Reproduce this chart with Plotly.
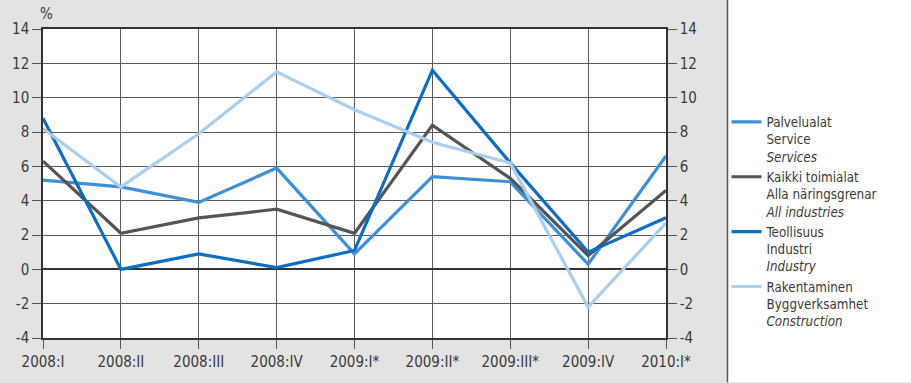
import plotly.graph_objects as go

quarters = ["2008:I", "2008:II", "2008:III", "2008:IV", "2009:I*", "2009:II*", "2009:III*", "2009:IV", "2010:I*"]
services = [5.2, 4.8, 3.9, 5.9, 0.9, 5.4, 5.1, 0.3, 6.6]
all_industries = [6.3, 2.1, 3.0, 3.5, 2.1, 8.4, 5.3, 0.8, 4.6]
industry = [8.8, 0.0, 0.9, 0.1, 1.1, 11.6, 6.2, 1.0, 3.0]
construction = [8.2, 4.8, 7.9, 11.5, 9.3, 7.4, 6.2, -2.2, 2.7]
y_ticks = [-4, -2, 0, 2, 4, 6, 8, 10, 12, 14]
y_labels = ["-4", "-2", "0", "2", "4", "6", "8", "10", "12", "14"]

series = [
    ("Palvelualat<br>Service<br><i>Services</i>", services, "#3d8fd6"),
    ("Kaikki toimialat<br>Alla näringsgrenar<br><i>All industries</i>", all_industries, "#555555"),
    ("Teollisuus<br>Industri<br><i>Industry</i>", industry, "#0b6ec2"),
    ("Rakentaminen<br>Byggverksamhet<br><i>Construction</i>", construction, "#aacfec"),
]

FONT = "DejaVu Sans Condensed, Liberation Sans Narrow, sans-serif"
W, H = 911, 383
L, R, T, B = 38, 666, 29, 343
TXT = "#3a3a3a"

fig = go.Figure()
for name, vals, col in series:
    fig.add_trace(go.Scatter(x=quarters, y=vals, name=name, mode="lines",
                             line=dict(color=col, width=3.2), cliponaxis=False))
# invisible companion trace for right-hand axis
fig.add_trace(go.Scatter(x=quarters, y=services, yaxis="y2", mode="lines",
                         line=dict(width=0), opacity=0, showlegend=False, hoverinfo="skip"))

def px_x(p):
    return (p - L) / (R - L)

def px_y(p):
    return (B - p) / (B - T)

tickfont = dict(size=15, family=FONT, color=TXT)

fig.update_layout(
    width=W, height=H,
    margin=dict(l=L, r=W - R, t=T, b=H - B),
    paper_bgcolor="#e3e3e3",
    plot_bgcolor="white",
    font=dict(family=FONT, size=15, color=TXT),
    xaxis=dict(type="category", range=[0, 8], showgrid=True, gridcolor="#5a5a5a", gridwidth=1,
               ticks="outside", ticklen=9, tickcolor="#555555", showline=True, linecolor="#333333",
               linewidth=1.5, mirror=True, tickfont=tickfont),
    yaxis=dict(range=[-4, 14], tickvals=y_ticks, ticktext=y_labels, showgrid=True, gridcolor="#5a5a5a",
               gridwidth=1, zeroline=True, zerolinecolor="#333333", zerolinewidth=1.5,
               ticks="outside", ticklen=9, tickcolor="#555555", showline=True, linecolor="#333333",
               linewidth=1.5, tickfont=tickfont),
    yaxis2=dict(range=[-4, 14], tickvals=y_ticks, ticktext=y_labels, overlaying="y", side="right",
                showgrid=False, zeroline=False, ticks="outside", ticklen=9, tickcolor="#555555",
                showline=True, linecolor="#333333", linewidth=1.5, tickfont=tickfont),
    legend=dict(x=px_x(727), y=px_y(108), xanchor="left", yanchor="top", valign="top",
                bgcolor="rgba(0,0,0,0)", font=dict(family=FONT, size=13.3, color=TXT),
                tracegroupgap=0, itemwidth=30),
    showlegend=True,
    shapes=[
        dict(type="rect", xref="paper", yref="paper", x0=px_x(728), x1=px_x(W + 5), y0=px_y(H + 5),
             y1=px_y(-5), fillcolor="white", line=dict(width=0), layer="below"),
        dict(type="line", xref="paper", yref="paper", x0=px_x(728), x1=px_x(728), y0=px_y(H + 5),
             y1=px_y(-5), line=dict(color="#555555", width=1.5)),
    ],
    annotations=[
        dict(text="%", xref="paper", yref="paper", x=px_x(42), y=px_y(14), xanchor="center",
             yanchor="middle", showarrow=False, font=dict(family=FONT, size=15, color=TXT)),
    ],
)

fig.write_html("out.html", config={"displayModeBar": False},
               post_script="document.body.style.margin='0';document.body.style.overflow='hidden';")
